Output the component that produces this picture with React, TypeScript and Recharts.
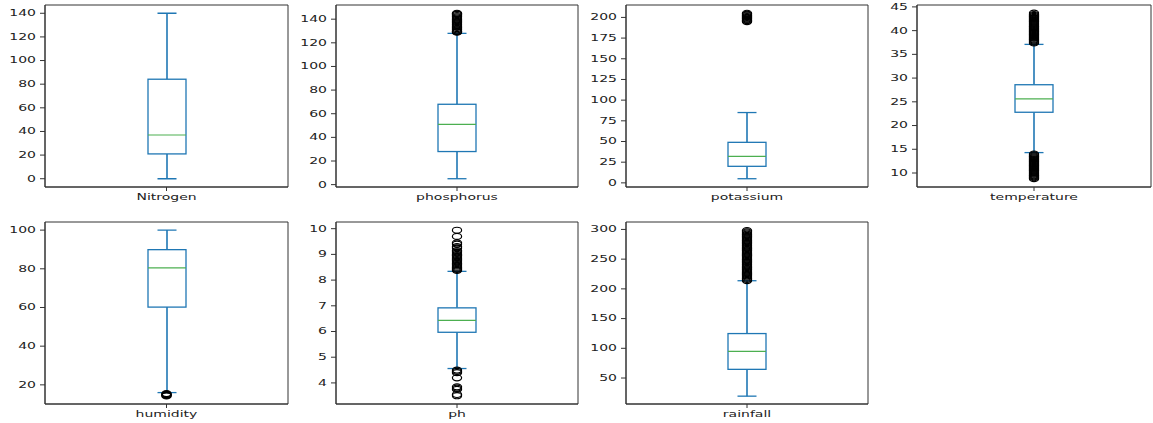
import React from "react";
import { ComposedChart, Bar, Scatter, XAxis, YAxis, CartesianGrid } from "recharts";

// feature names (one box per panel)
const categories = ["Nitrogen", "phosphorus", "potassium", "temperature", "humidity", "ph", "rainfall"];

// box statistics
const whiskerLow = [0, 5, 5, 14.3, 16, 4.56, 19.5];
const q1 = [21, 28, 20, 22.8, 60.2, 5.97, 64.6];
const median = [37, 51, 32, 25.6, 80.5, 6.43, 95];
const q3 = [84.2, 68, 49, 28.6, 89.9, 6.92, 124.8];
const whiskerHigh = [140, 128, 85, 37.1, 100, 8.34, 213.7];

// fliers
const nitrogenOut: number[] = [];
const phosphorusOut = [
  129, 129.5, 130, 131, 132, 133, 134, 135, 136, 137, 138, 139, 140, 141, 142, 143, 144, 144.5, 145,
];
const potassiumOut = [195, 196, 197, 198, 199, 200, 201, 202, 203, 204, 205];
const temperatureOut = [
  37.4, 37.6, 37.8, 38.0, 38.2, 38.4, 38.6, 38.8, 39.0, 39.2, 39.4, 39.6, 39.8, 40.0, 40.2, 40.4, 40.6, 40.8,
  41.0, 41.2, 41.4, 41.6, 41.8, 42.0, 42.2, 42.4, 42.6, 42.8, 43.0, 43.2, 43.4, 43.7,
  8.8, 9.0, 9.2, 9.4, 9.6, 9.8, 10.0, 10.2, 10.4, 10.6, 10.8, 11.0, 11.2, 11.4, 11.6, 11.8, 12.0, 12.2,
  12.4, 12.6, 12.8, 13.0, 13.2, 13.4, 13.6, 13.8, 14.0,
];
const humidityOut = [14.3, 14.6, 14.9, 15.2, 15.5];
const phOut = [
  8.38, 8.42, 8.46, 8.5, 8.55, 8.6, 8.65, 8.7, 8.75, 8.8, 8.85, 8.9, 8.95, 9.0, 9.05, 9.1, 9.15, 9.25, 9.3,
  9.4, 9.45, 9.7, 9.94, 4.5, 4.45, 4.4, 4.2, 3.85, 3.8, 3.75, 3.55, 3.5,
];
const rainfallOut = [
  214, 216, 218, 220, 222, 224, 226, 228, 230, 232, 234, 236, 238, 240, 242, 244, 246, 248, 250, 252, 254,
  256, 258, 260, 262, 264, 266, 268, 270, 272, 274, 276, 278, 280, 282, 284, 286, 288, 290, 292, 294, 296, 298,
];
const outliers = [nitrogenOut, phosphorusOut, potassiumOut, temperatureOut, humidityOut, phOut, rainfallOut];

// y axis ticks and limits
const yTicks = [
  [0, 20, 40, 60, 80, 100, 120, 140],
  [0, 20, 40, 60, 80, 100, 120, 140],
  [0, 25, 50, 75, 100, 125, 150, 175, 200],
  [10, 15, 20, 25, 30, 35, 40, 45],
  [20, 40, 60, 80, 100],
  [4, 5, 6, 7, 8, 9, 10],
  [50, 100, 150, 200, 250, 300],
];
const yDomains = [
  [-7, 147],
  [-2, 152],
  [-5, 215],
  [7.05, 45.4],
  [10.1, 104.2],
  [3.18, 10.26],
  [6.3, 312.5],
];

// panel placement: plot area left edge / width, row top
const panelLeft = [45, 336, 626, 917, 45, 336, 626];
const panelWidth = [243, 242, 242, 234, 243, 242, 242];
const panelTop = [5, 5, 5, 5, 222, 222, 222];

const BLUE = "#1f77b4";
const GREEN = "#4caf50";
const AXIS = "#333";
const STRETCH = 1.75;

function YTick(props: any) {
  const { x, y, payload } = props;
  return (
    <text
      x={0}
      y={0}
      transform={`translate(${x},${y}) scale(${STRETCH},1)`}
      textAnchor="end"
      dy="0.36em"
      fontSize={8}
      fill="#222"
      fontFamily="DejaVu Sans"
    >
      {payload.value}
    </text>
  );
}

function XTick(props: any) {
  const { x, y, payload } = props;
  return (
    <text
      x={0}
      y={0}
      transform={`translate(${x},${y}) scale(${STRETCH},1)`}
      textAnchor="middle"
      dy="0.75em"
      fontSize={8}
      fill="#222"
      fontFamily="DejaVu Sans"
    >
      {payload.value}
    </text>
  );
}

function BoxShape(props: any) {
  const { x, y, width, height, payload } = props;
  const top = Math.min(y, y + height);
  const bottom = Math.max(y, y + height);
  const yOf = (v: number) => bottom - ((v - payload.lo) / (payload.hi - payload.lo)) * (bottom - top);
  const cx = x + width / 2;
  const cap = width / 4;
  return (
    <g>
      <line x1={cx} x2={cx} y1={yOf(payload.hi)} y2={yOf(payload.q3)} stroke={BLUE} strokeWidth={1.6} />
      <line x1={cx} x2={cx} y1={yOf(payload.q1)} y2={yOf(payload.lo)} stroke={BLUE} strokeWidth={1.6} />
      <line x1={cx - cap} x2={cx + cap} y1={yOf(payload.hi)} y2={yOf(payload.hi)} stroke={BLUE} strokeWidth={1.3} />
      <line x1={cx - cap} x2={cx + cap} y1={yOf(payload.lo)} y2={yOf(payload.lo)} stroke={BLUE} strokeWidth={1.3} />
      <rect
        x={x}
        y={yOf(payload.q3)}
        width={width}
        height={yOf(payload.q1) - yOf(payload.q3)}
        fill="#fff"
        stroke={BLUE}
        strokeWidth={1.3}
      />
      <line x1={x} x2={x + width} y1={yOf(payload.med)} y2={yOf(payload.med)} stroke={GREEN} strokeWidth={1.2} />
    </g>
  );
}

function Flier(props: any) {
  const { cx, cy } = props;
  return <ellipse cx={cx} cy={cy} rx={4.6} ry={3} fill="none" stroke="#000" strokeWidth={1.2} />;
}

// frame: lines on the plot area's edges (top/bottom, left/right)
const frameRows = ({ offset }: any) => [offset.top, offset.top + offset.height];
const frameCols = ({ offset }: any) => [offset.left, offset.left + offset.width];

function Panel({ i }: { i: number }) {
  const name = categories[i];
  const data = [
    { name, range: [whiskerLow[i], whiskerHigh[i]], lo: whiskerLow[i], hi: whiskerHigh[i], q1: q1[i], med: median[i], q3: q3[i] },
  ];
  const fliers = outliers[i].map((v) => ({ name, v }));
  return (
    <div style={{ position: "absolute", left: panelLeft[i] - 45, top: panelTop[i] - 5 }}>
      <ComposedChart
        width={45 + panelWidth[i] + 2}
        height={212}
        data={data}
        margin={{ top: 5, right: 2, left: 0, bottom: 0 }}
      >
        <CartesianGrid
          stroke={AXIS}
          strokeWidth={1}
          horizontalCoordinatesGenerator={frameRows}
          verticalCoordinatesGenerator={frameCols}
        />
        <XAxis
          dataKey="name"
          allowDuplicatedCategory={false}
          height={25}
          tickSize={4}
          tickMargin={3}
          tick={<XTick />}
          stroke={AXIS}
          tickLine={{ stroke: AXIS }}
        />
        <YAxis
          width={45}
          type="number"
          domain={yDomains[i]}
          ticks={yTicks[i]}
          allowDataOverflow
          interval={0}
          tickSize={5}
          tickMargin={4}
          tick={<YTick />}
          stroke={AXIS}
          tickLine={{ stroke: AXIS }}
        />
        <Bar dataKey="range" barSize={38} shape={<BoxShape />} isAnimationActive={false} />
        <Scatter data={fliers} dataKey="v" shape={<Flier />} isAnimationActive={false} />
      </ComposedChart>
    </div>
  );
}

export default function App() {
  return (
    <div style={{ position: "absolute", left: 0, top: 0, width: 1153, height: 423, background: "#fff" }}>
      {categories.map((c, i) => (
        <Panel key={c} i={i} />
      ))}
    </div>
  );
}
